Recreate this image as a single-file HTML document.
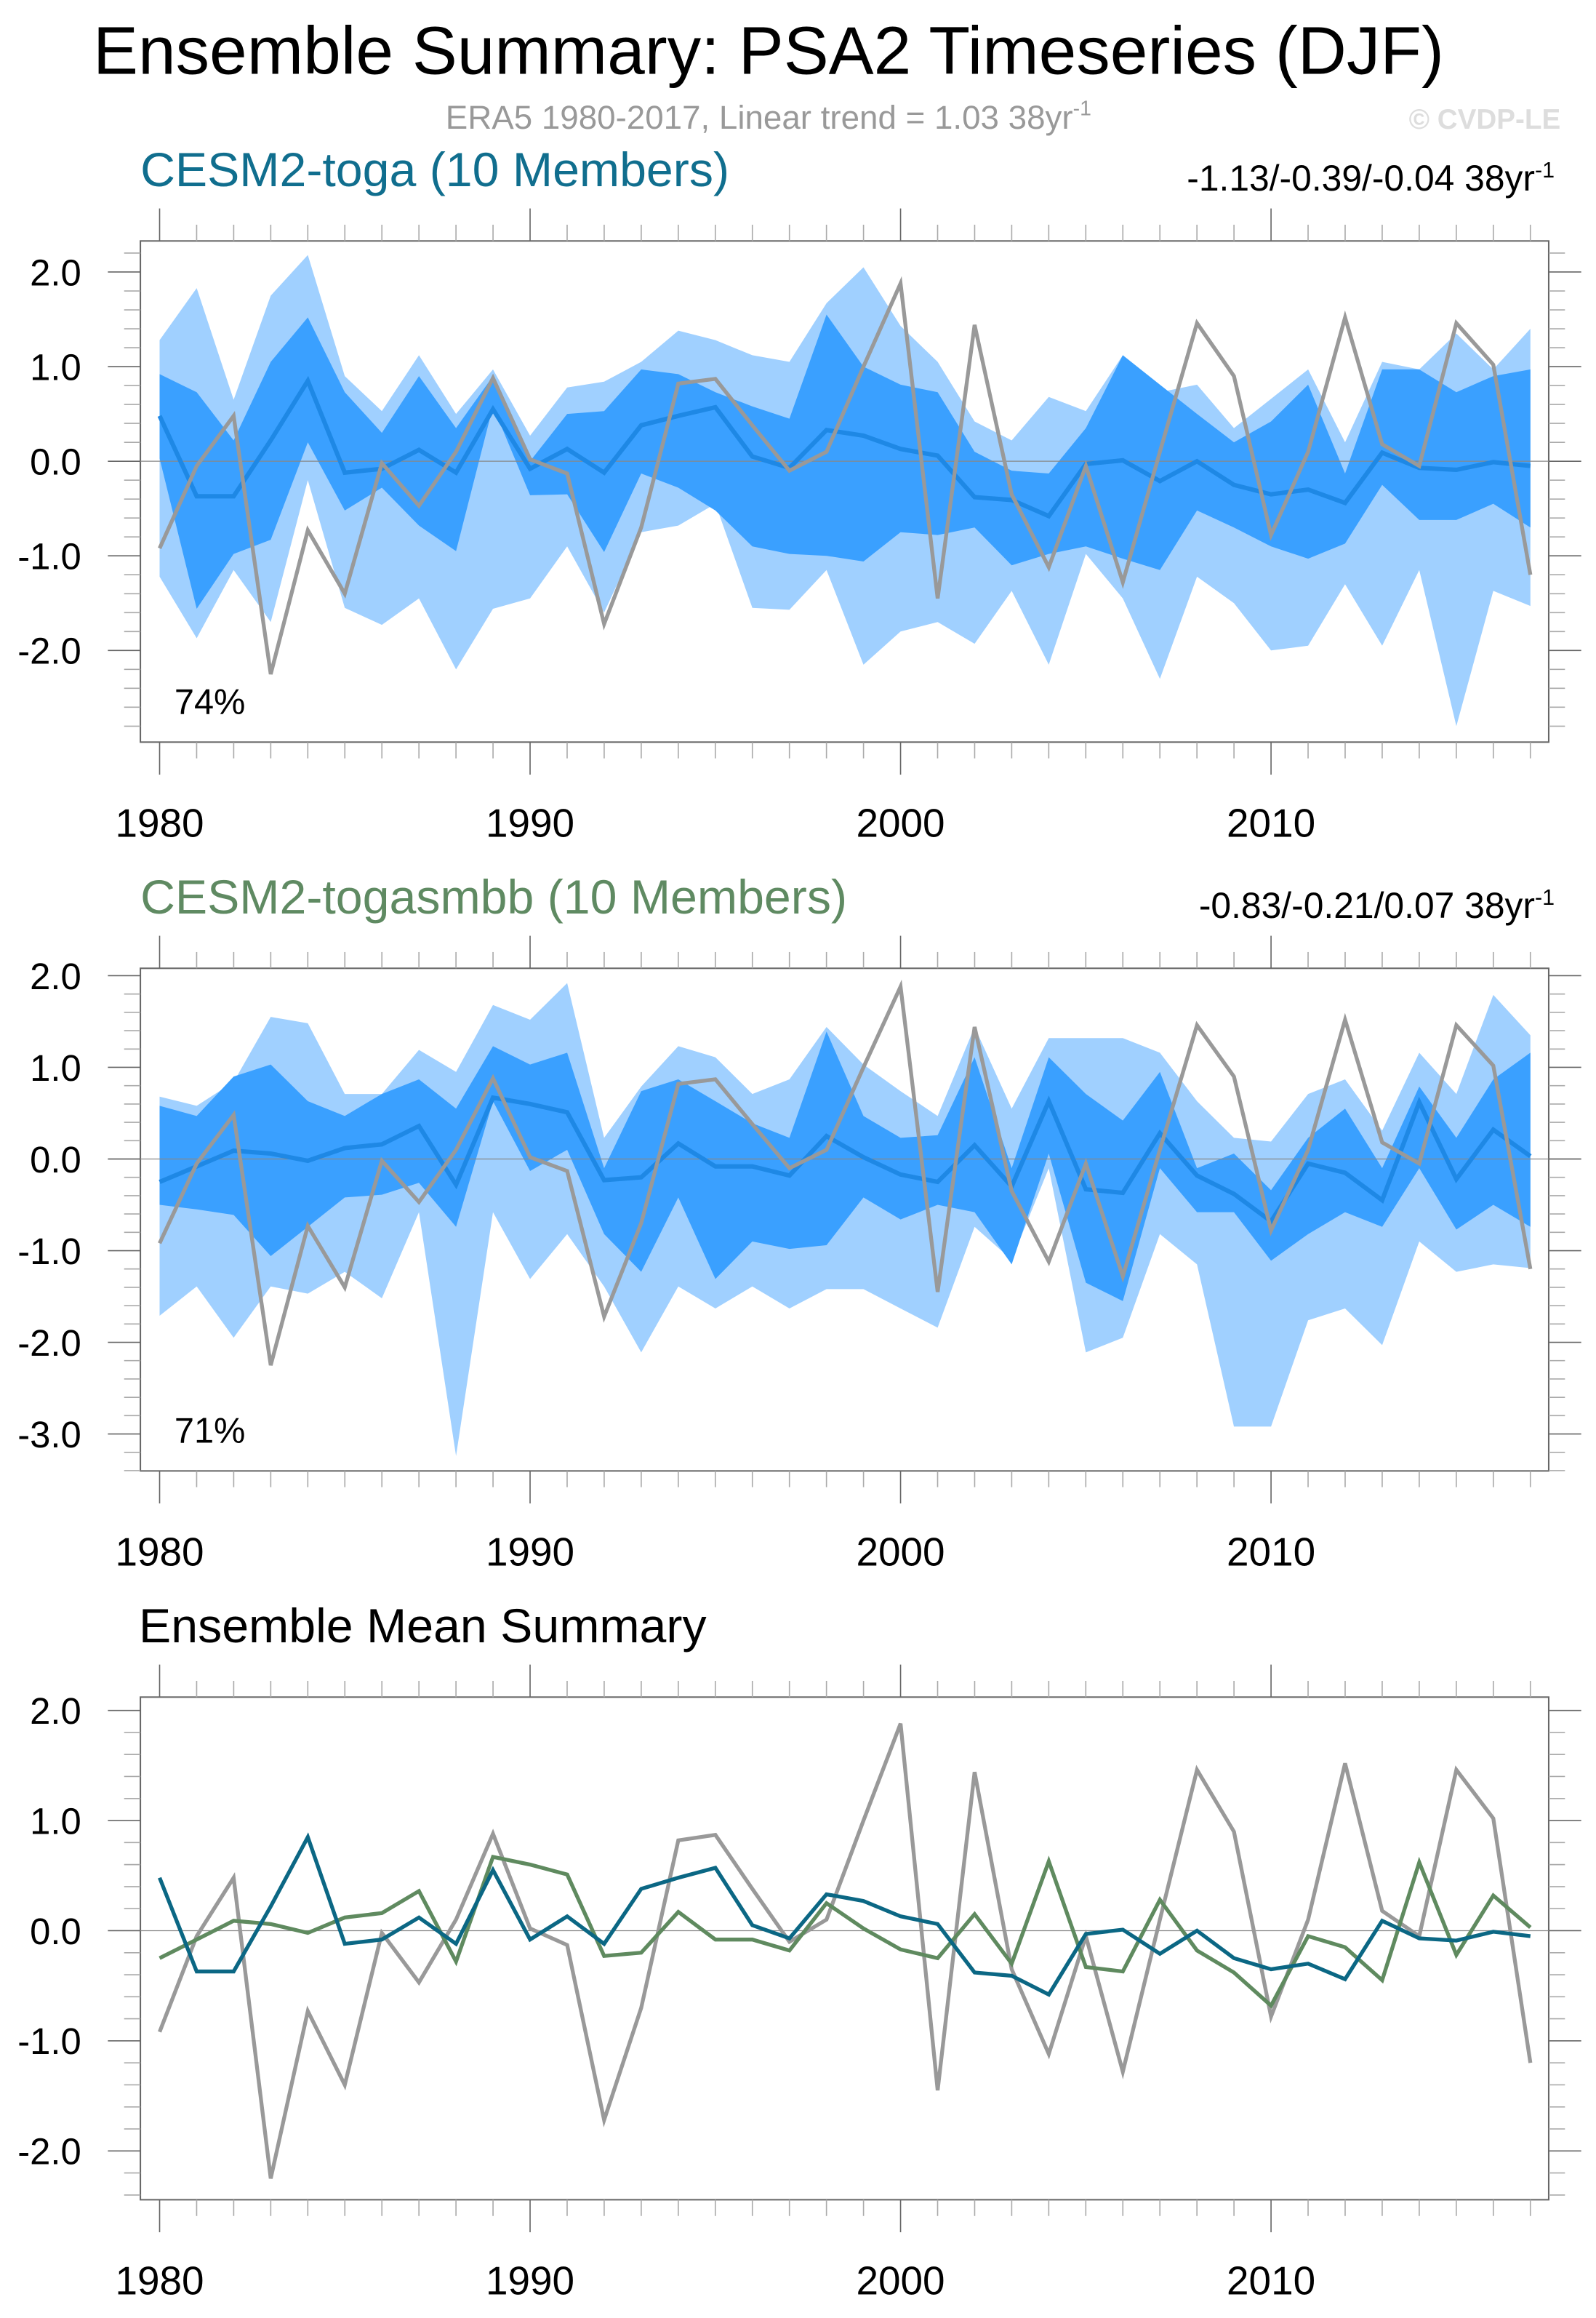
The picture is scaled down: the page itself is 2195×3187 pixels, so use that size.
<!DOCTYPE html>
<html><head><meta charset="utf-8"><style>
html,body{margin:0;padding:0;background:#fff;}
svg{display:block;}
text{font-family:"Liberation Sans",Arial,sans-serif;}
</style></head><body>
<svg id="chart" xmlns="http://www.w3.org/2000/svg" width="2195" height="3187" viewBox="0 0 1080 1568" preserveAspectRatio="none">
<text x="63" y="50" font-size="45.7" fill="#000">Ensemble Summary: PSA2 Timeseries (DJF)</text>
<text x="520" y="87" font-size="22.5" fill="#999" text-anchor="middle">ERA5 1980-2017, Linear trend = 1.03 38yr<tspan dy="-9" font-size="14">-1</tspan></text>
<text x="1056" y="87" font-size="19" font-weight="bold" fill="#ddd" text-anchor="end">© CVDP-LE</text>
<g id="p1"></g>
<g id="p2"></g>
<g id="p3"></g>
</svg>
<script>
const years = [1980,1981,1982,1983,1984,1985,1986,1987,1988,1989,1990,1991,1992,1993,1994,1995,1996,1997,1998,1999,2000,2001,2002,2003,2004,2005,2006,2007,2008,2009,2010,2011,2012,2013,2014,2015,2016,2017];
const era5 = [-0.92,-0.05,0.48,-2.25,-0.73,-1.4,-0.02,-0.47,0.1,0.88,0.02,-0.13,-1.72,-0.7,0.82,0.87,0.38,-0.1,0.1,1.0,1.88,-1.45,1.44,-0.35,-1.12,-0.05,-1.28,0.1,1.46,0.9,-0.78,0.1,1.52,0.18,-0.05,1.46,1.02,-1.2];
const togaMean = [0.48,-0.37,-0.37,0.22,0.85,-0.12,-0.08,0.12,-0.12,0.55,-0.08,0.13,-0.12,0.38,0.48,0.57,0.05,-0.07,0.33,0.27,0.13,0.06,-0.38,-0.41,-0.58,-0.03,0.01,-0.21,0.0,-0.25,-0.35,-0.3,-0.44,0.09,-0.07,-0.09,-0.01,-0.05];
const smbbMean = [-0.25,-0.08,0.09,0.06,-0.02,0.12,0.16,0.36,-0.28,0.67,0.6,0.51,-0.23,-0.2,0.17,-0.08,-0.08,-0.18,0.25,0.02,-0.17,-0.25,0.15,-0.3,0.63,-0.33,-0.37,0.28,-0.18,-0.38,-0.68,-0.05,-0.15,-0.45,0.62,-0.22,0.32,0.03];
const togaMax = [1.28,1.83,0.65,1.75,2.18,0.9,0.53,1.12,0.5,0.97,0.27,0.78,0.84,1.05,1.38,1.28,1.12,1.05,1.67,2.05,1.43,1.05,0.42,0.22,0.68,0.53,1.12,0.73,0.81,0.35,0.66,0.97,0.2,1.05,0.97,1.35,0.97,1.4];
const togaMin = [-1.22,-1.87,-1.15,-1.7,-0.2,-1.55,-1.73,-1.45,-2.2,-1.56,-1.45,-0.9,-1.6,-0.75,-0.68,-0.45,-1.55,-1.57,-1.15,-2.15,-1.8,-1.7,-1.93,-1.37,-2.15,-0.98,-1.45,-2.3,-1.22,-1.5,-2.0,-1.95,-1.3,-1.95,-1.15,-2.8,-1.37,-1.53];
const togaHi = [0.92,0.73,0.22,1.05,1.52,0.73,0.3,0.9,0.35,0.9,0.0,0.5,0.53,0.97,0.92,0.73,0.58,0.45,1.55,1.0,0.81,0.73,0.1,-0.1,-0.13,0.35,1.12,0.81,0.5,0.2,0.42,0.81,-0.13,0.97,0.97,0.73,0.9,0.97];
const togaLo = [0.03,-1.56,-0.98,-0.83,0.2,-0.52,-0.28,-0.68,-0.95,0.58,-0.36,-0.35,-0.96,-0.13,-0.28,-0.52,-0.9,-0.98,-1.0,-1.06,-0.75,-0.78,-0.7,-1.1,-0.98,-0.9,-1.03,-1.15,-0.52,-0.7,-0.9,-1.03,-0.87,-0.25,-0.62,-0.62,-0.45,-0.7];
const smbbMax = [0.68,0.58,0.84,1.55,1.48,0.71,0.71,1.19,0.95,1.68,1.52,1.92,0.23,0.79,1.23,1.11,0.71,0.87,1.44,1.03,0.74,0.47,1.44,0.55,1.32,1.32,1.32,1.16,0.63,0.23,0.19,0.71,0.87,0.31,1.16,0.71,1.79,1.35];
const smbbMin = [-1.71,-1.39,-1.95,-1.39,-1.47,-1.23,-1.52,-0.58,-3.24,-0.58,-1.31,-0.82,-1.39,-2.11,-1.39,-1.63,-1.39,-1.63,-1.42,-1.42,-1.63,-1.84,-0.74,-1.1,-0.1,-2.11,-1.95,-0.82,-1.15,-2.92,-2.92,-1.76,-1.63,-2.03,-0.9,-1.23,-1.15,-1.19];
const smbbHi = [0.58,0.47,0.9,1.03,0.63,0.47,0.71,0.87,0.55,1.23,1.03,1.16,-0.1,0.74,0.87,0.63,0.39,0.23,1.39,0.47,0.23,0.26,1.11,-0.1,1.11,0.71,0.42,0.95,-0.1,0.06,-0.34,0.23,0.55,-0.1,0.79,0.23,0.87,1.16];
const smbbLo = [-0.5,-0.55,-0.61,-1.06,-0.74,-0.42,-0.39,-0.26,-0.74,0.63,-0.13,0.1,-0.82,-1.23,-0.42,-1.31,-0.9,-0.98,-0.94,-0.42,-0.66,-0.5,-0.58,-1.15,0.06,-1.35,-1.55,-0.1,-0.58,-0.58,-1.11,-0.82,-0.58,-0.74,-0.1,-0.77,-0.5,-0.74];
const xTicks = [1980,1990,2000,2010];
const p1Ticks = [2,1,0,-1,-2];
const p2Ticks = [2,1,0,-1,-2,-3];
const p3Ticks = [2,1,0,-1,-2];

const NS="http://www.w3.org/2000/svg";
function mk(parent,tag,attrs){const e=document.createElementNS(NS,tag);for(const k in attrs)e.setAttribute(k,attrs[k]);parent.appendChild(e);return e;}
const xL=95,xR=1048;
function xs(y){return 108+(y-1980)*25.07;}
function pts(xsF,ysF,arr){return arr.map((v,i)=>xsF(years[i]).toFixed(1)+","+ysF(v).toFixed(1)).join(" ");}

function panel(g,cfg){
  const ys=v=>cfg.y0-v*cfg.k;
  const box=mk(g,'rect',{x:xL,y:cfg.top,width:xR-xL,height:cfg.bot-cfg.top,fill:'none',stroke:'#666','stroke-width':1});
  
  
  const vmin=(cfg.bot-cfg.y0)/-cfg.k, vmax=(cfg.y0-cfg.top)/cfg.k;
  for(let v=Math.ceil(vmin*5)/5;v<=vmax+1e-6;v+=0.2){
    const yy=ys(v);const major=Math.abs(v-Math.round(v))<1e-6;
    const len=major?22:11;
    const t1=mk(g,'line',{x1:xL-len,x2:xL,y1:yy,y2:yy,stroke:major?'#666':'#aaa','stroke-width':0.8});
    
    
    const t2=mk(g,'line',{x1:xR,x2:xR+len,y1:yy,y2:yy,stroke:major?'#666':'#aaa','stroke-width':0.8});
    
    
  }
  years.forEach(y=>{
    const major=(y%10===0);const xx=xs(y);
    const tb=mk(g,'line',{x1:xx,x2:xx,y1:cfg.bot,y2:cfg.bot+(major?22:11),stroke:major?'#666':'#aaa','stroke-width':0.8});
    
    
    const tt=mk(g,'line',{x1:xx,x2:xx,y1:cfg.top,y2:cfg.top-(major?22:11),stroke:major?'#666':'#aaa','stroke-width':0.8});
    
    
  });
  cfg.yt.forEach(v=>{
    const t=mk(g,'text',{x:55,y:ys(v)+9,'font-size':25,'text-anchor':'end',fill:'#000'});
    t.textContent=v.toFixed(1);
    
    
  });
  xTicks.forEach(y=>{
    const t=mk(g,'text',{x:xs(y),y:cfg.bot+64,'font-size':27,'text-anchor':'middle',fill:'#000'});
    t.textContent=y;
    
    
  });
  if(cfg.bands){
    const [mx,mn,hi,lo]=cfg.bands;
    const rev=(arr)=>arr.map((v,i)=>xs(years[i]).toFixed(1)+","+ys(v).toFixed(1)).reverse().join(" ");
    const outer=mk(g,'polygon',{points:pts(xs,ys,mx)+" "+rev(mn),fill:'#a0d0ff'});
    
    
    const inner=mk(g,'polygon',{points:pts(xs,ys,hi)+" "+rev(lo),fill:'#3aa0ff'});
    
    
  }
  const z=mk(g,'line',{x1:xL,x2:xR,y1:ys(0),y2:ys(0),stroke:'#888','stroke-width':0.6});
  
  
  cfg.lines.forEach(L=>{
    const pl=mk(g,'polyline',{points:pts(xs,ys,L.d),fill:'none',stroke:L.c,'stroke-width':L.w,'stroke-linejoin':'miter'});
    
    
  });
  const tt=mk(g,'text',{x:cfg.tx,y:cfg.top-37,'font-size':32.6,fill:cfg.tc});
  tt.textContent=cfg.title;
  
  
  if(cfg.stats){
    const st=mk(g,'text',{x:1052,y:cfg.top-34,'font-size':24.5,'text-anchor':'end',fill:'#000'});
    st.innerHTML=cfg.stats+'<tspan dy="-9" font-size="15">-1</tspan>';
    
    
  }
  if(cfg.pct){
    const pc=mk(g,'text',{x:118,y:cfg.bot-19,'font-size':24,fill:'#000'});
    pc.textContent=cfg.pct;
    
    
  }
}
panel(document.getElementById('p1'),{top:163,bot:502,y0:312,k:64,yt:p1Ticks,bands:[togaMax,togaMin,togaHi,togaLo],
  lines:[{d:togaMean,c:'#1e88e5',w:3,n:'toga-ensemble-mean-line'},{d:era5,c:'#999',w:2.6,n:'era5-line'}],
  title:'CESM2-toga (10 Members)',tc:'#106e8e',tx:95,stats:'-1.13/-0.39/-0.04 38yr',pct:'74%'});
panel(document.getElementById('p2'),{top:655,bot:995,y0:784,k:62,yt:p2Ticks,bands:[smbbMax,smbbMin,smbbHi,smbbLo],
  lines:[{d:smbbMean,c:'#1e88e5',w:3,n:'togasmbb-ensemble-mean-line'},{d:era5,c:'#999',w:2.6,n:'era5-line'}],
  title:'CESM2-togasmbb (10 Members)',tc:'#5f8a62',tx:95,stats:'-0.83/-0.21/0.07 38yr',pct:'71%'});
panel(document.getElementById('p3'),{top:1148,bot:1488,y0:1306,k:74.5,yt:p3Ticks,bands:null,
  lines:[{d:era5,c:'#999',w:2.6,n:'era5-line'},{d:smbbMean,c:'#5f8a5f',w:2.6,n:'togasmbb-mean-line'},{d:togaMean,c:'#0b6784',w:2.6,n:'toga-mean-line'}],
  title:'Ensemble Mean Summary',tc:'#000',tx:94});
</script>
</body></html>
